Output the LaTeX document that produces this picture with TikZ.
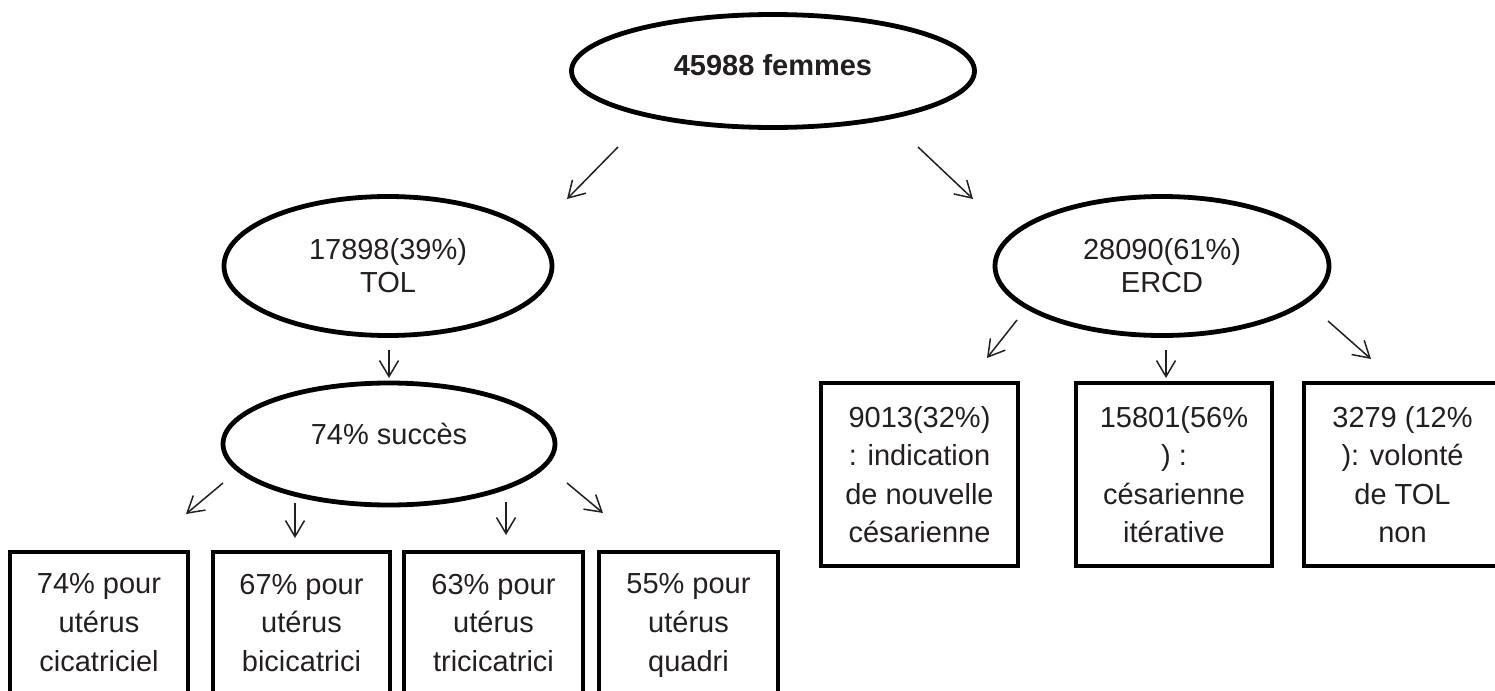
\documentclass[tikz,border=0pt]{standalone}
\usepackage{fontspec}
\setmainfont{Liberation Sans}
\usepackage{tikz}
\usetikzlibrary{shapes.geometric, arrows.meta, positioning}

\definecolor{ink}{HTML}{231F20}

\tikzset{
	oval/.style={ellipse, draw=black, line width=2.4pt, inner sep=0pt, text=ink, align=center, font=\fontsize{14.5}{16.5}\selectfont},
	box/.style={rectangle, draw=black, line width=2pt, inner sep=0pt, text=ink, text depth=0pt, align=center, font=\fontsize{14.5}{19.3}\selectfont},
	flow/.style={-{Straight Barb[length=8pt,width=9.5pt]}, line width=0.75pt, draw=ink}
}

\begin{document}
\begin{tikzpicture}[x=0.5pt, y=-0.5pt]
		% Frame (pixel grid of the figure)
		\useasboundingbox (0,0) rectangle (1495,691);
		\clip (0,0) rectangle (1495,691);
		
		% Ellipses
		\node[oval, minimum width=201.5pt, minimum height=56.5pt, text depth=6pt, font=\fontsize{14.5}{16.5}\selectfont\bfseries] (femmes) at (773,71) {45988 femmes};
		\node[oval, minimum width=164pt, minimum height=69.5pt] (tol) at (388,266) {17898(39\%)\\TOL};
		\node[oval, minimum width=167pt, minimum height=69.5pt] (ercd) at (1162,266) {28090(61\%)\\ERCD};
		\node[oval, minimum width=166pt, minimum height=61pt, text depth=10.5pt] (succes) at (389,444) {74\% succès};
		
		% Boxes under the TOL branch
		\node[box, minimum width=89pt, minimum height=70.5pt] (cicat) at (99,622.5) {74\% pour\\utérus\\cicatriciel};
		\node[box, minimum width=88.5pt, minimum height=70.5pt] (bicicat) at (301.5,622.5) {67\% pour\\utérus\\bicicatrici};
		\node[box, minimum width=89.5pt, minimum height=70.5pt] (tricicat) at (493.5,622.5) {63\% pour\\utérus\\tricicatrici};
		\node[box, minimum width=89.5pt, minimum height=70.5pt] (quadri) at (688.5,622.5) {55\% pour\\utérus\\quadri};
		
		% Boxes under the ERCD branch
		\node[box, minimum width=98.5pt, minimum height=91.5pt] (indic) at (919.5,474.5) {9013(32\%)\\: indication\\de nouvelle\\césarienne};
		\node[box, minimum width=98pt, minimum height=91.5pt] (iter) at (1174,474.5) {15801(56\%\\) :\\césarienne\\itérative};
		\node[box, minimum width=98.5pt, minimum height=91.5pt] (volonte) at (1402.5,474.5) {3279 (12\%\\): volonté\\de TOL\\non};
		
		% Arrow ends (the arrows float between the shapes)
		\coordinate (femL) at (618,147);   \coordinate (toTol) at (567,199);
		\coordinate (femR) at (918,147);   \coordinate (toErcd) at (973,199);
		\coordinate (tolB) at (389,350);   \coordinate (toSucces) at (389,378);
		\coordinate (ercdL) at (1017,320); \coordinate (toIndic) at (987,358);
		\coordinate (ercdB) at (1166,350); \coordinate (toIter) at (1166,378);
		\coordinate (ercdR) at (1328,321); \coordinate (toVolonte) at (1371,359);
		\coordinate (sucA) at (223,483);   \coordinate (toCicat) at (186,514);
		\coordinate (sucB) at (295,503);   \coordinate (toBicicat) at (295,538);
		\coordinate (sucC) at (506,502);   \coordinate (toTricicat) at (506,535);
		\coordinate (sucD) at (567,483);   \coordinate (toQuadri) at (603,513);
		
		% Arrows
		\draw[flow] (femL) -- (toTol);
		\draw[flow] (femR) -- (toErcd);
		\draw[flow] (tolB) -- (toSucces);
		\draw[flow] (ercdL) -- (toIndic);
		\draw[flow] (ercdB) -- (toIter);
		\draw[flow] (ercdR) -- (toVolonte);
		\draw[flow] (sucA) -- (toCicat);
		\draw[flow] (sucB) -- (toBicicat);
		\draw[flow] (sucC) -- (toTricicat);
		\draw[flow] (sucD) -- (toQuadri);
		
	\end{tikzpicture}
\end{document}
